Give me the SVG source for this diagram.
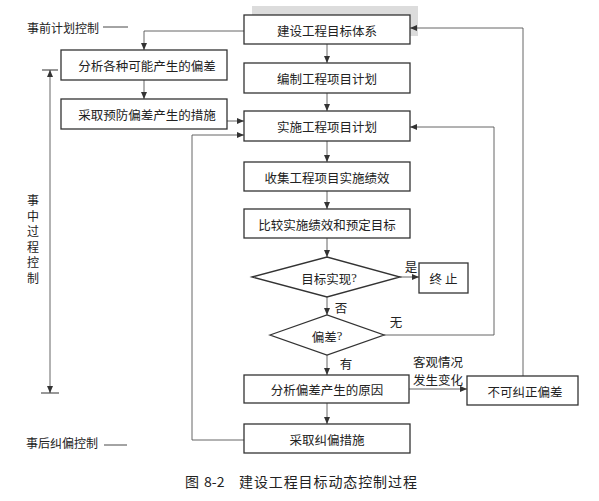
<svg xmlns="http://www.w3.org/2000/svg" width="599" height="501" viewBox="0 0 599 501">
<style>
text{font-family:"Noto Sans CJK SC","Liberation Sans",sans-serif;fill:#222;font-size:12.5px;text-anchor:middle;dominant-baseline:central}
.box{fill:#fff;stroke:#333;stroke-width:1.3}
.dia{fill:#fff;stroke:#333;stroke-width:1.3}
.con{fill:none;stroke:#555;stroke-width:0.9}
.q{font-family:"Liberation Serif",serif}
.cap{font-size:14px;text-anchor:start}
.vert{font-size:12px;writing-mode:vertical-rl;letter-spacing:3.5px}
</style>
<defs>
<marker id="ah" viewBox="0 0 7 6" refX="7" refY="3" markerWidth="7" markerHeight="6" markerUnits="userSpaceOnUse" orient="auto-start-reverse">
<path d="M0,0 L7,3 L0,6 z" fill="#333"/>
</marker>
</defs>
<rect x="0" y="0" width="599" height="501" fill="#fff"/>
<rect x="252" y="6" width="166" height="30" fill="#dcdcdc"/>

<g id="connectors">
<path class="con" d="M327,44 V63" marker-end="url(#ah)"/>
<path class="con" d="M327,93 V111" marker-end="url(#ah)"/>
<path class="con" d="M327,141 V162" marker-end="url(#ah)"/>
<path class="con" d="M327,191 V209" marker-end="url(#ah)"/>
<path class="con" d="M327,238 V257" marker-end="url(#ah)"/>
<path class="con" d="M400,277 H419" marker-end="url(#ah)"/>
<path class="con" d="M327,297 V315" marker-end="url(#ah)"/>
<path class="con" d="M327,355 V375" marker-end="url(#ah)"/>
<path class="con" d="M327,403 V424" marker-end="url(#ah)"/>
<path class="con" d="M384,335 H494 V127 H410" marker-end="url(#ah)"/>
<path class="con" d="M409,389 H467" marker-end="url(#ah)"/>
<path class="con" d="M523,376 V28 H410" marker-end="url(#ah)"/>
<path class="con" d="M244,440 H192 V135 H244" marker-end="url(#ah)"/>
<path class="con" d="M244,31 H144 V50" marker-end="url(#ah)"/>
<path class="con" d="M144,80 V99" marker-end="url(#ah)"/>
<path class="con" d="M227,121 H244" marker-end="url(#ah)"/>
<path class="con" d="M50,70 V393" marker-start="url(#ah)" marker-end="url(#ah)"/>
<path class="con" d="M42,70 H58 M41,393 H59" style="stroke:#333;stroke-width:1.1"/>
<path class="con" d="M103,27 H128" style="stroke:#333"/>
<path class="con" d="M104,445 H127" style="stroke:#333"/>
</g>

<g id="n-jianshe"><rect class="box" x="244" y="15" width="166" height="29"/><text x="327" y="30">建设工程目标体系</text></g>
<g id="n-bianzhi"><rect class="box" x="244" y="63" width="166" height="30"/><text x="327" y="78">编制工程项目计划</text></g>
<g id="n-shishi"><rect class="box" x="244" y="111" width="166" height="30"/><text x="327" y="126">实施工程项目计划</text></g>
<g id="n-shouji"><rect class="box" x="244" y="162" width="166" height="29"/><text x="327" y="177">收集工程项目实施绩效</text></g>
<g id="n-bijiao"><rect class="box" x="244" y="209" width="166" height="29"/><text x="327" y="224">比较实施绩效和预定目标</text></g>
<g id="n-mubiao"><polygon class="dia" points="252,277 327,257 400,277 327,297"/><text x="329" y="278">目标实现<tspan class="q">?</tspan></text></g>
<g id="n-zhongzhi"><rect class="box" x="419" y="263" width="49" height="30"/><text x="445" y="278" style="letter-spacing:3px">终止</text></g>
<g id="n-piancha"><polygon class="dia" points="270,335 327,315 384,335 327,355"/><text x="327" y="336">偏差<tspan class="q">?</tspan></text></g>
<g id="n-fenxiyuanyin"><rect class="box" x="244" y="375" width="165" height="28"/><text x="327" y="389">分析偏差产生的原因</text></g>
<g id="n-bukejiuzheng"><rect class="box" x="467" y="376" width="111" height="29"/><text x="525" y="391">不可纠正偏差</text></g>
<g id="n-caiqujiupian"><rect class="box" x="244" y="424" width="166" height="29"/><text x="327" y="439">采取纠偏措施</text></g>
<g id="n-fenxigezhong"><rect class="box" x="61" y="50" width="166" height="30"/><text x="147" y="65">分析各种可能产生的偏差</text></g>
<g id="n-caiquyufang"><rect class="box" x="61" y="99" width="166" height="30"/><text x="147" y="114">采取预防偏差产生的措施</text></g>

<g id="labels">
<text x="63" y="27" style="font-size:12px">事前计划控制</text>
<text x="62" y="442" style="font-size:12px">事后纠偏控制</text>
<text class="vert" x="33" y="241">事中过程控制</text>
<text x="411" y="266">是</text>
<text x="341" y="307">否</text>
<text x="396" y="321">无</text>
<text x="346" y="363">有</text>
<text x="438" y="361">客观情况</text>
<text x="438" y="379">发生变化</text>
<text class="cap" x="185" y="481">图</text>
<text class="cap" x="204" y="481">8-2</text>
<text class="cap" x="239" y="481" style="letter-spacing:0.9px">建设工程目标动态控制过程</text>
</g>
</svg>
